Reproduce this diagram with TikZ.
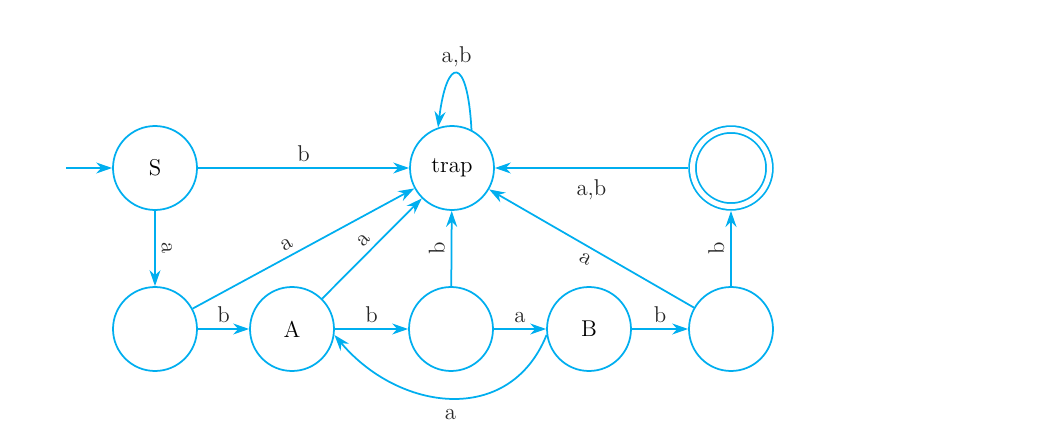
\documentclass[tikz,border=0pt]{standalone}
\usetikzlibrary{arrows.meta}
\definecolor{dfacyan}{RGB}{0,174,239}
\tikzset{
  dfastate/.style={circle,draw=dfacyan,line width=0.035cm,minimum size=1.68cm,inner sep=0pt,font=\fontsize{13}{15}\selectfont},
  accepting/.style={dfastate,double=white,double distance=0.1cm,minimum size=1.54cm,outer sep=0.09cm},
  arr/.style={draw=dfacyan,line width=0.035cm,-{Stealth[length=0.32cm,width=0.22cm]}},
  lbl/.style={font=\fontsize{13}{15}\selectfont,text=black!85}
}
\begin{document}
\begin{tikzpicture}[x=0.02cm,y=-0.02cm]
 \useasboundingbox (0,0) rectangle (1058,446);
 % states, top row
 \node[dfastate] (S) at (155,168) {S};
 \node[dfastate] (trap) at (452,168) {trap};
 \node[accepting] (acc) at (731,168) {};
 % states, bottom row
 \node[dfastate] (q1) at (155,329) {};
 \node[dfastate] (A) at (292,329) {A};
 \node[dfastate] (q3) at (451,329) {};
 \node[dfastate] (B) at (589,329) {B};
 \node[dfastate] (q5) at (731,329) {};
 \coordinate (start) at (66,168);
 % transitions
 \draw[arr] (start) -- (S);
 \draw[arr] (S) -- node[lbl,above] {b} (trap);
 \draw[arr] (S) -- node[lbl,sloped,above] {a} (q1);
 \draw[arr] (q1) -- node[lbl,sloped,above,pos=0.45] {a} (trap);
 \draw[arr] (A) -- node[lbl,sloped,above] {a} (trap);
 \draw[arr] (q3) -- node[lbl,sloped,above] {b} (trap);
 \draw[arr] (acc) -- node[lbl,below=0.1cm] {a,b} (trap);
 \draw[arr] (q5) -- node[lbl,sloped,below] {a} (trap);
 \draw[arr] (q5) -- node[lbl,sloped,above] {b} (acc);
 \draw[arr] (q1) -- node[lbl,above] {b} (A);
 \draw[arr] (A) -- node[lbl,above] {b} (q3);
 \draw[arr] (q3) -- node[lbl,above] {a} (B);
 \draw[arr] (B) -- node[lbl,above] {b} (q5);
 \draw[arr] (B.188) to[out=-112,in=-50,looseness=1.2] node[lbl,below=0.1cm] {a} (A.-8);
 \draw[arr] (trap.63) .. controls +(-93:75) and +(-83:72) .. node[lbl,above] {a,b} (trap.109);
\end{tikzpicture}
\end{document}
